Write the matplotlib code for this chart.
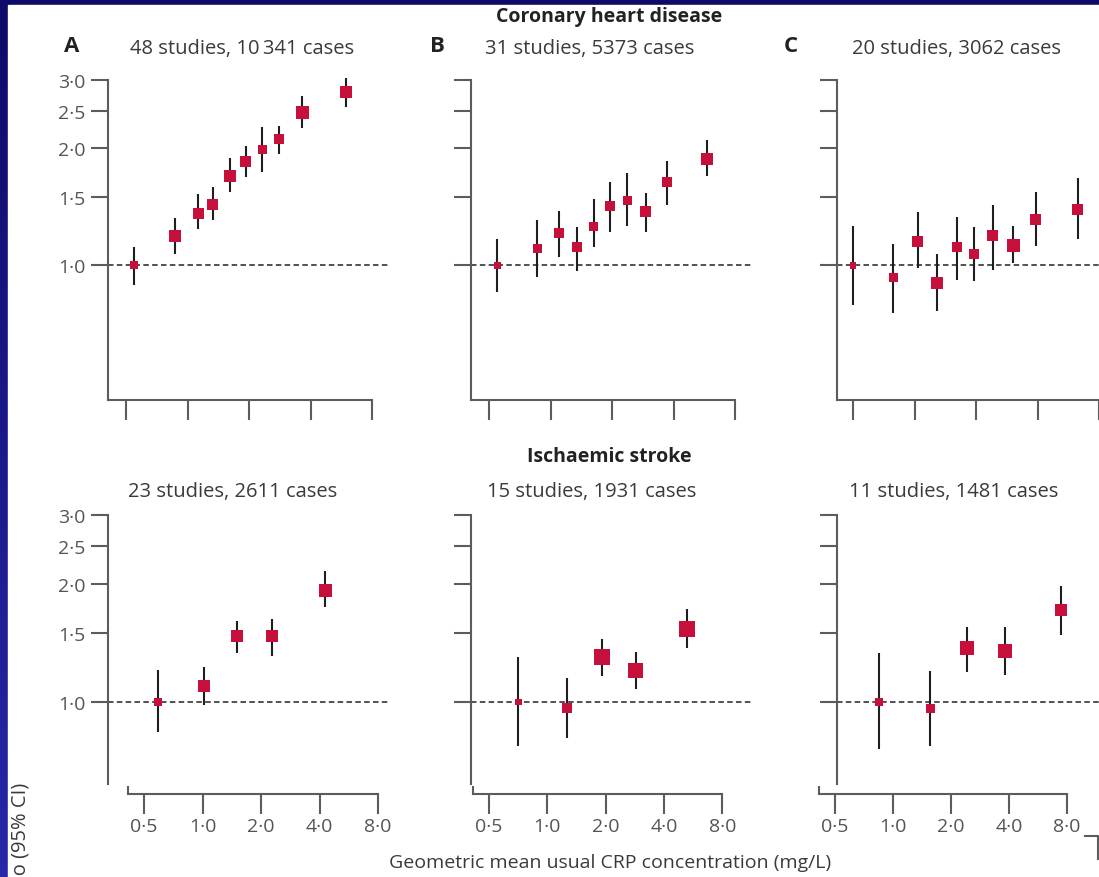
import matplotlib.pyplot as plt
import numpy as np
from matplotlib.ticker import NullLocator
from matplotlib.patches import Rectangle

plt.rcParams['font.family'] = ['Open Sans', 'DejaVu Sans']

W, H = 1099, 878

# ---- data: geometric mean CRP (mg/L), risk ratio, 95% CI, marker width (px)
# coronary heart disease
chd_a_x = [0.55, 0.87, 1.13, 1.33, 1.61, 1.93, 2.32, 2.81, 3.64, 5.97]
chd_a_rr = [1.0, 1.19, 1.36, 1.43, 1.70, 1.85, 1.99, 2.11, 2.48, 2.79]
chd_a_lo = [0.89, 1.07, 1.24, 1.31, 1.54, 1.69, 1.74, 1.93, 2.26, 2.56]
chd_a_hi = [1.11, 1.32, 1.52, 1.59, 1.89, 2.03, 2.27, 2.28, 2.73, 3.04]
chd_a_sz = [8, 12, 11, 11, 12, 11, 9, 10, 13, 12]

chd_b_x = [0.55, 0.86, 1.10, 1.35, 1.63, 1.96, 2.37, 2.93, 3.72, 5.84]
chd_b_rr = [1.0, 1.10, 1.21, 1.11, 1.26, 1.42, 1.47, 1.37, 1.64, 1.88]
chd_b_lo = [0.85, 0.93, 1.05, 0.965, 1.11, 1.22, 1.26, 1.22, 1.43, 1.70]
chd_b_hi = [1.17, 1.31, 1.38, 1.25, 1.48, 1.64, 1.73, 1.53, 1.85, 2.10]
chd_b_sz = [7, 9, 10, 10, 9, 10, 9, 11, 10, 12]

chd_c_x = [0.50, 0.785, 1.04, 1.29, 1.61, 1.96, 2.42, 3.04, 3.93, 6.31]
chd_c_rr = [1.0, 0.93, 1.15, 0.90, 1.11, 1.07, 1.19, 1.12, 1.31, 1.39]
chd_c_lo = [0.79, 0.75, 0.98, 0.76, 0.915, 0.91, 0.97, 1.01, 1.12, 1.17]
chd_c_hi = [1.26, 1.13, 1.37, 1.07, 1.33, 1.25, 1.43, 1.26, 1.54, 1.68]
chd_c_sz = [7, 9, 11, 12, 10, 10, 11, 13, 11, 11]

# ischaemic stroke
str_a_x = [0.59, 1.02, 1.51, 2.28, 4.27]
str_a_rr = [1.0, 1.10, 1.47, 1.47, 1.93]
str_a_lo = [0.84, 0.98, 1.33, 1.31, 1.75]
str_a_hi = [1.21, 1.23, 1.61, 1.63, 2.16]
str_a_sz = [8, 12, 12, 12, 13]

str_b_x = [0.71, 1.26, 1.92, 2.87, 5.26]
str_b_rr = [1.0, 0.965, 1.30, 1.20, 1.54]
str_b_lo = [0.77, 0.81, 1.165, 1.08, 1.37]
str_b_hi = [1.30, 1.15, 1.45, 1.34, 1.73]
str_b_sz = [7, 10, 16, 15, 16]

str_c_x = [0.85, 1.56, 2.42, 3.81, 7.45]
str_c_rr = [1.0, 0.965, 1.37, 1.35, 1.72]
str_c_lo = [0.76, 0.77, 1.19, 1.17, 1.48]
str_c_hi = [1.33, 1.20, 1.55, 1.55, 1.98]
str_c_sz = [8, 9, 14, 14, 12]

subtitles_top = ['48 studies, 10\u2009341 cases', '31 studies, 5373 cases', '20 studies, 3062 cases']
subtitles_bot = ['23 studies, 2611 cases', '15 studies, 1931 cases', '11 studies, 1481 cases']
letters = ['A', 'B', 'C']
yticks = [1.0, 1.5, 2.0, 2.5, 3.0]
ytick_labels = ['1\u00b70', '1\u00b75', '2\u00b70', '2\u00b75', '3\u00b70']
xticks = [0.5, 1, 2, 4, 8]
xtick_labels = ['0\u00b75', '1\u00b70', '2\u00b70', '4\u00b70', '8\u00b70']

RED = '#c70f3c'
AX = '#5c5c5c'
TXT = '#3a3a3a'

fig = plt.figure(figsize=(W / 100, H / 100), dpi=100)

# background: blue frame + white page
bg = fig.add_axes([0, 0, 1, 1], zorder=-10)
grad = np.linspace(0, 1, 256).reshape(-1, 1)
c0 = np.array([13, 10, 107]) / 255
c1 = np.array([40, 40, 168]) / 255
img = c0 + (c1 - c0) * grad[..., None]
bg.imshow(img, aspect='auto', extent=[0, W, H, 0])
bg.add_patch(Rectangle((8, 6), W, H, color='white', zorder=2))
bg.plot([1085, 1098, 1098], [837, 837, 860], color=AX, lw=1.5, zorder=3)
bg.set_xlim(0, W)
bg.set_ylim(H, 0)
bg.axis('off')


def panel(yaxis_px, xstart_px, x05_px, ppd, xend_px, top_px, one_px, ppl,
          xaxis_px, ybot_px, x, rr, lo, hi, sz, ylab, xlab):
    xval = lambda p: 0.5 * 2 ** ((p - x05_px) / ppd)
    yval = lambda p: np.exp((one_px - p) / ppl)
    left = min(yaxis_px, xstart_px) - 2
    ax = fig.add_axes([left / W, 1 - xaxis_px / H, (xend_px - left) / W, (xaxis_px - top_px) / H])
    ax.set_xscale('log', base=2)
    ax.set_yscale('log')
    ax.set_xlim(xval(left), xval(xend_px))
    ax.set_ylim(yval(xaxis_px), yval(top_px))
    ax.patch.set_alpha(0)
    for s in ['top', 'right']:
        ax.spines[s].set_visible(False)
    ax.spines['left'].set_position(('data', xval(yaxis_px)))
    ax.spines['left'].set_bounds(yval(ybot_px), 3.0)
    ax.spines['bottom'].set_bounds(xval(xstart_px), 8)
    for s in ['left', 'bottom']:
        ax.spines[s].set_color(AX)
        ax.spines[s].set_linewidth(1.5)
    ax.set_yticks(yticks, labels=ytick_labels if ylab else [''] * 5)
    ax.set_xticks(xticks, labels=xtick_labels if xlab else [''] * 5)
    ax.xaxis.set_minor_locator(NullLocator())
    ax.yaxis.set_minor_locator(NullLocator())
    ax.tick_params(axis='y', length=12.2, width=1.5, color=AX, pad=4.0,
                   labelsize=14, labelcolor='#555555')
    ax.tick_params(axis='x', length=14.4, width=1.5, color=AX, pad=2.5,
                   labelsize=14, labelcolor='#555555')
    ax.hlines(1.0, xval(yaxis_px), xval(xend_px), colors='#333333', lw=1.2,
              linestyles=(0, (3.3, 2.0)), zorder=1, clip_on=False)
    if ybot_px != xaxis_px:
        ax.vlines(xval(xstart_px), yval(xaxis_px), yval(xaxis_px - 8), colors=AX,
                  lw=1.5, clip_on=False)
    ax.vlines(x, lo, hi, colors='#1e1e1e', lw=1.5, zorder=2, clip_on=False)
    ax.scatter(x, rr, s=(np.array(sz) / 1.389) ** 2, marker='s', color=RED,
               linewidths=0, zorder=3, clip_on=False)
    return ax


# top row (coronary heart disease)
panel(108, 108, 126, 61.5, 388, 81, 266, 168.4, 401, 401,
      chd_a_x, chd_a_rr, chd_a_lo, chd_a_hi, chd_a_sz, True, False)
panel(471, 471, 489, 61.5, 751, 81, 266, 168.4, 401, 401,
      chd_b_x, chd_b_rr, chd_b_lo, chd_b_hi, chd_b_sz, False, False)
panel(837, 837, 853, 61.5, 1117, 81, 266, 168.4, 401, 401,
      chd_c_x, chd_c_rr, chd_c_lo, chd_c_hi, chd_c_sz, False, False)

# bottom row (ischaemic stroke)
panel(108, 128, 144, 58.5, 388, 516, 703, 170.2, 795, 785,
      str_a_x, str_a_rr, str_a_lo, str_a_hi, str_a_sz, True, True)
panel(471, 473, 489, 58.3, 752, 516, 703, 170.2, 795, 785,
      str_b_x, str_b_rr, str_b_lo, str_b_hi, str_b_sz, False, True)
panel(837, 819, 835, 58.0, 1117, 516, 703, 170.2, 795, 785,
      str_c_x, str_c_rr, str_c_lo, str_c_hi, str_c_sz, False, True)

# texts
for cx, t in zip([242, 590, 956], subtitles_top):
    fig.text(cx / W, 1 - 49 / H, t, ha='center', va='center', fontsize=14.5, color=TXT)
for cx, t in zip([233, 592, 954], subtitles_bot):
    fig.text(cx / W, 1 - 492 / H, t, ha='center', va='center', fontsize=14.5, color=TXT)
for cx, t in zip([72, 437, 791], letters):
    fig.text(cx / W, 1 - 47 / H, t, ha='center', va='center', fontsize=16,
             fontweight='bold', color='#222222')
fig.text(609 / W, 1 - 17 / H, 'Coronary heart disease', ha='center', va='center',
         fontsize=14, fontweight='bold', color='#222222')
fig.text(609 / W, 1 - 457 / H, 'Ischaemic stroke', ha='center', va='center',
         fontsize=14, fontweight='bold', color='#222222')
fig.text(610 / W, 1 - 863 / H, 'Geometric mean usual CRP concentration (mg/L)',
         ha='center', va='center', fontsize=14, color=TXT)
fig.text(21 / W, 1 - 783 / H, 'Risk ratio (95% CI)', ha='center', va='top',
         rotation=90, fontsize=14.5, color=TXT)

fig.savefig('out.png', dpi=100)
